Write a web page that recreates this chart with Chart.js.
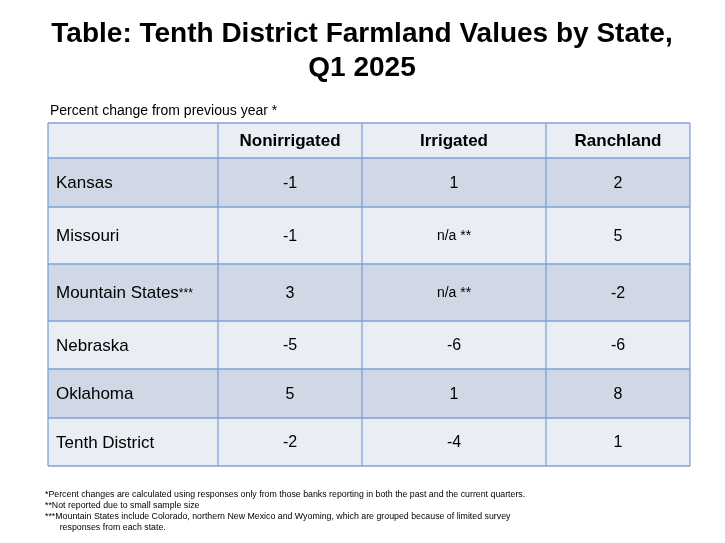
<!DOCTYPE html>
<html><head><meta charset="utf-8">
<script src="https://cdn.jsdelivr.net/npm/chart.js@4"></script>
<style>html,body{margin:0;padding:0;background:#fff}#w{width:725px;height:543px}</style>
</head><body><div id="w"><canvas id="c" width="725" height="543"></canvas></div>
<script>
const columns = ["", "Nonirrigated", "Irrigated", "Ranchland"];
const states = ["Kansas", "Missouri", "Mountain States", "Nebraska", "Oklahoma", "Tenth District"];
const nonirrigated = ["-1", "-1", "3", "-5", "5", "-2"];
const irrigated = ["1", "n/a **", "n/a **", "-6", "1", "-4"];
const ranchland = ["2", "5", "-2", "-6", "8", "1"];
const footnotes = [
 "*Percent changes are calculated using responses only from those banks reporting in both the past and the current quarters.",
 "**Not reported due to small sample size",
 "***Mountain States include Colorado, northern New Mexico and Wyoming, which are grouped because of limited survey",
 "      responses from each state."];
// layout (scale units)
const colEdges = [0,170,314,498,642];
const rowEdges = [0,35,84,141,198,246,295,343];
const tablePlugin = {
 id:'table',
 beforeDatasetsDraw(chart){
  const {ctx, scales:{x,y}} = chart;
  const X=v=>x.getPixelForValue(v), Y=v=>y.getPixelForValue(v);
  const rows=[columns].concat(states.map((s,i)=>[s,nonirrigated[i],irrigated[i],ranchland[i]]));
  ctx.save();
  rows.forEach((r,ri)=>{
   const y0=Y(rowEdges[ri]), y1=Y(rowEdges[ri+1]);
   ctx.fillStyle = ri%2===1 ? '#d0d7e5' : '#e9edf4';
   ctx.fillRect(X(0),y0,X(642)-X(0),y1-y0);
   r.forEach((t,ci)=>{
    const x0=X(colEdges[ci]), x1=X(colEdges[ci+1]);
    ctx.fillStyle='#000'; ctx.textBaseline='middle';
    const ym=(y0+y1)/2+1;
    if(ri===0){ctx.font='bold 17px "Liberation Sans"';ctx.textAlign='center';ctx.fillText(t,(x0+x1)/2,ym);}
    else if(ci===0){
      ctx.textAlign='left';
      if(t==='Mountain States'){ctx.font='17px "Liberation Sans"';ctx.fillText(t,x0+8,ym);const w=ctx.measureText(t).width;ctx.font='12px "Liberation Sans"';ctx.fillText('***',x0+8+w,ym);}
      else {ctx.font='17px "Liberation Sans"';ctx.fillText(t,x0+8,ym);}
    } else {ctx.font=(t.startsWith('n/a')?'14px':'16px')+' "Liberation Sans"';ctx.textAlign='center';ctx.fillText(t,(x0+x1)/2,ym);}
   });
  });
  ctx.strokeStyle='#7fa1d6'; ctx.lineWidth=1.3;
  rowEdges.forEach(v=>{ctx.beginPath();ctx.moveTo(X(0),Y(v));ctx.lineTo(X(642),Y(v));ctx.stroke();});
  colEdges.forEach(v=>{ctx.beginPath();ctx.moveTo(X(v),Y(0));ctx.lineTo(X(v),Y(343));ctx.stroke();});
  // texts
  ctx.fillStyle='#000'; ctx.textAlign='center'; ctx.textBaseline='alphabetic';
  ctx.font='bold 28px "Liberation Sans"';
  ctx.fillText('Table: Tenth District Farmland Values by State,',362,42);
  ctx.fillText('Q1 2025',362,76);
  ctx.textAlign='left'; ctx.font='14px "Liberation Sans"';
  ctx.fillText('Percent change from previous year *',50,115);
  ctx.font='8.8px "Liberation Sans Narrow","Liberation Sans"';
  footnotes.forEach((f,i)=>ctx.fillText(f,45,497+i*11));
  ctx.restore();
 }
};
new Chart(document.getElementById('c'),{
 type:'scatter',
 data:{datasets:[{data:[]}]},
 options:{responsive:false,animation:false,
  layout:{padding:{left:48,top:123,right:35,bottom:77}},
  plugins:{legend:{display:false},tooltip:{enabled:false}},
  scales:{x:{type:'linear',min:0,max:642,display:false},y:{type:'linear',min:0,max:343,reverse:true,display:false}}},
 plugins:[tablePlugin]
});
</script></body></html>
